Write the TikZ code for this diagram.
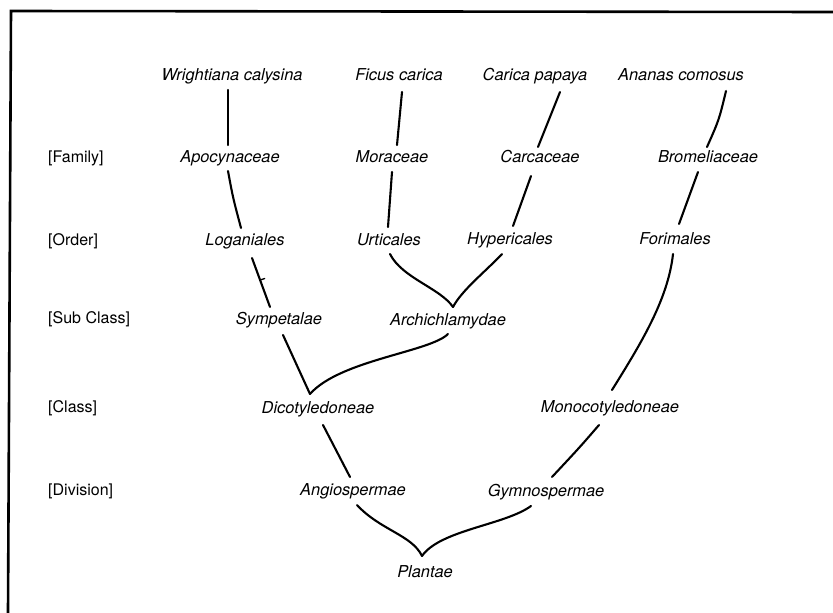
\documentclass[tikz,border=0pt]{standalone}
\usepackage{fontspec}
\setmainfont{TeX Gyre Heros}
\usetikzlibrary{calc}
\begin{document}
\begin{tikzpicture}[x=1pt,y=-1pt,
  taxon/.style={font=\fontsize{16.4}{19}\selectfont\itshape, inner sep=0pt, anchor=center, text height=11pt, text depth=3pt},
  rank/.style={font=\fontsize{16}{19}\selectfont, inner sep=0pt, anchor=west, text height=11pt, text depth=3pt},
  link/.style={line width=2.1pt, line cap=round, line join=round},
  frameline/.style={line width=2.6pt}]
\useasboundingbox (0,0) rectangle (833,613);
% frame
\coordinate (fTL) at (11,11);
\coordinate (fTR) at (833,12);
\coordinate (fBL) at (8,613);
\draw[frameline] (fBL) -- (fTL) -- (fTR);
% rank labels
\node[rank] (fam) at (48,158) {[Family]};
\node[rank] (ord) at (48,241) {[Order]};
\node[rank] (sub) at (48,319) {[Sub Class]};
\node[rank] (cls) at (48,408) {[Class]};
\node[rank] (div) at (48,491) {[Division]};
% taxa
\node[taxon] (wri) at (232,76) {Wrightiana calysina};
\node[taxon] (fic) at (399,76) {Ficus carica};
\node[taxon] (car) at (535,76) {Carica papaya};
\node[taxon] (ana) at (681,76) {Ananas comosus};
\node[taxon] (apo) at (230,158) {Apocynaceae};
\node[taxon] (mor) at (392,158) {Moraceae};
\node[taxon] (cac) at (540,158) {Carcaceae};
\node[taxon] (bro) at (708,158) {Bromeliaceae};
\node[taxon] (log) at (245,241) {Loganiales};
\node[taxon] (urt) at (389,241) {Urticales};
\node[taxon] (hyp) at (510,240) {Hypericales};
\node[taxon] (for) at (675,240) {Forimales};
\node[taxon] (sym) at (279,320) {Sympetalae};
\node[taxon] (arc) at (448,321) {Archichlamydae};
\node[taxon] (dic) at (318,409) {Dicotyledoneae};
\node[taxon] (mon) at (610,408) {Monocotyledoneae};
\node[taxon] (ang) at (353,491) {Angiospermae};
\node[taxon] (gym) at (546,492) {Gymnospermae};
\node[taxon] (pla) at (425,573) {Plantae};
% junctions
\coordinate (jA) at (453,307);
\coordinate (jB) at (310,394);
\coordinate (jC) at (422,556);
% connectors
\draw[link] ($(wri)+(-4,14)$) -- ($(apo)+(-2,-13)$);
\draw[link] ($(fic)+(3,16)$) -- ($(mor)+(5,-13)$);
\draw[link] ($(car)+(25,16)$) -- ($(cac)+(-2,-11)$);
\draw[link] ($(ana)+(45,15)$) .. controls ($(ana)+(38,44)$) .. ($(bro)+(-1,-11)$);
\draw[link] ($(apo)+(-2,13)$) .. controls ($(apo)+(3,40)$) .. ($(log)+(-4,-13)$);
\draw[link] ($(mor)+(0,14)$) -- ($(urt)+(-1,-14)$);
\draw[link] ($(cac)+(-9,18)$) -- ($(hyp)+(3,-14)$);
\draw[link] ($(bro)+(-10,14)$) -- ($(for)+(4,-16)$);
\draw[link] ($(log)+(7,17)$) -- node[pos=0.45, inner sep=0pt] (tk) {} ($(sym)+(-9,-13)$);
\draw[line width=1.4pt, line cap=round] (tk.center) -- ++(4.5,-1.5);
\draw[link] ($(urt)+(1,13)$) .. controls (402,278) and (440,288) .. (jA);
\draw[link] ($(hyp)+(-8,14)$) .. controls (485,272) and (462,290) .. (jA);
\draw[link] ($(arc)+(0,13)$) .. controls (430,352) and (340,360) .. (jB);
\draw[link] ($(sym)+(4,15)$) -- (jB);
\draw[link] ($(dic)+(5,16)$) -- ($(ang)+(-3,-14)$);
\draw[link] ($(mon)+(-11,17)$) .. controls (580,447) .. ($(gym)+(6,-15)$);
\draw[link] ($(for)+(-2,14)$) .. controls (668,300) and (640,345) .. ($(mon)+(2,-18)$);
\draw[link] ($(ang)+(4,14)$) .. controls (380,530) and (412,535) .. (jC);
\draw[link] ($(gym)+(-15,14)$) .. controls (505,525) and (440,530) .. (jC);
\end{tikzpicture}
\end{document}
